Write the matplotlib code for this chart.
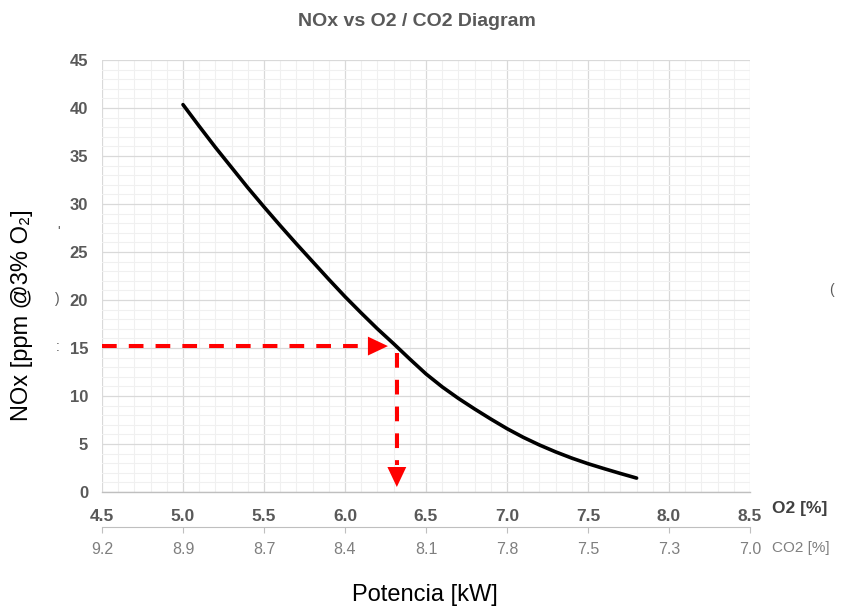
import matplotlib
matplotlib.use("Agg")
import matplotlib.pyplot as plt
from matplotlib.ticker import MultipleLocator

plt.rcParams['font.family'] = ['Liberation Sans', 'DejaVu Sans']

# curve
o2 = [5.0, 5.1, 5.2, 5.3, 5.4, 5.5, 5.6, 5.7, 5.8, 5.9,
      6.0, 6.1, 6.2, 6.3, 6.4, 6.5, 6.6, 6.7, 6.8, 6.9,
      7.0, 7.1, 7.2, 7.3, 7.4, 7.5, 7.6, 7.7, 7.8]
nox = [40.35, 38.1, 35.9, 33.8, 31.7, 29.7, 27.75, 25.85, 24.0, 22.15,
       20.35, 18.65, 17.0, 15.45, 13.85, 12.3, 10.95, 9.75, 8.65, 7.6,
       6.6, 5.7, 4.9, 4.18, 3.53, 2.95, 2.43, 1.93, 1.45]

o2_ticks = [4.5, 5.0, 5.5, 6.0, 6.5, 7.0, 7.5, 8.0, 8.5]
o2_labels = ["4.5", "5.0", "5.5", "6.0", "6.5", "7.0", "7.5", "8.0", "8.5"]
co2_labels = ["9.2", "8.9", "8.7", "8.4", "8.1", "7.8", "7.5", "7.3", "7.0"]
nox_ticks = [0, 5, 10, 15, 20, 25, 30, 35, 40, 45]

# reading example (dashed arrows)
nox_read = 15.2
o2_read = 6.32
h_head_base, h_head_tip = 6.14, 6.265
v_start, v_head_base, v_head_tip = 14.5, 2.8, 0.52

W, H = 846, 607
fig = plt.figure(figsize=(W / 100, H / 100), dpi=100)
ax = fig.add_axes([102 / W, 1 - 492 / H, 648 / W, 432 / H])

ax.set_xlim(4.5, 8.5)
ax.set_ylim(0, 45)
ax.xaxis.set_major_locator(MultipleLocator(0.5))
ax.xaxis.set_minor_locator(MultipleLocator(0.1))
ax.yaxis.set_major_locator(MultipleLocator(5))
ax.yaxis.set_minor_locator(MultipleLocator(1))
ax.grid(which='major', color='#d9d9d9', lw=0.9)
ax.grid(which='minor', color='#f0f0f0', lw=0.75)
ax.set_axisbelow(True)
for s in ['top', 'right', 'left']:
    ax.spines[s].set_visible(False)
ax.spines['bottom'].set_color('#bfbfbf')
ax.spines['bottom'].set_linewidth(1.0)

ax.set_xticks(o2_ticks)
ax.set_xticklabels(o2_labels)
ax.set_yticks(nox_ticks)
ax.tick_params(axis='both', which='both', length=0)
ax.tick_params(axis='x', pad=12, labelsize=12.5, labelcolor='#595959')
ax.tick_params(axis='y', pad=10, labelsize=12, labelcolor='#595959')
for lab in ax.get_xticklabels() + ax.get_yticklabels():
    lab.set_fontweight('bold')

ax.plot(o2, nox, color='black', lw=2.6, solid_capstyle='round', solid_joinstyle='round', zorder=3)

red = '#ff0000'
dash = (0, (3.65, 3.0))
ax.plot([4.5, h_head_base], [nox_read, nox_read], color=red, lw=2.9, ls=dash, zorder=4)
ax.plot([o2_read, o2_read], [v_start, v_head_base], color=red, lw=2.9, ls=dash, zorder=4)
head = dict(arrowstyle='-|>,head_length=0.72,head_width=0.34', mutation_scale=20,
            color=red, lw=0, shrinkA=0, shrinkB=0)
ax.annotate('', xy=(h_head_tip, nox_read), xytext=(h_head_base, nox_read), arrowprops=head, zorder=5)
ax.annotate('', xy=(o2_read, v_head_tip), xytext=(o2_read, v_head_base), arrowprops=head, zorder=5)

# secondary CO2 scale
ax2 = fig.add_axes([102 / W, 1 - 527 / H, 648 / W, 0.0001])
ax2.set_xlim(4.5, 8.5)
ax2.set_ylim(0, 1)
ax2.set_xticks(o2_ticks)
ax2.set_xticklabels(co2_labels)
ax2.set_yticks([])
for s in ['top', 'right', 'left']:
    ax2.spines[s].set_visible(False)
ax2.spines['bottom'].set_color('#bfbfbf')
ax2.tick_params(axis='x', length=4, color='#bfbfbf', pad=7, labelsize=11.5, labelcolor='#7f7f7f')
ax2.patch.set_visible(False)

fig.text(772 / W, 1 - 509 / H, "O2 [%]", fontsize=12.5, fontweight='bold', color='#404040',
         ha='left', va='center')
fig.text(772 / W, 1 - 548 / H, "CO2 [%]", fontsize=11, color='#7f7f7f', ha='left', va='center')

fig.text(417 / W, 1 - 21 / H, "NOx vs O2 / CO2 Diagram", fontsize=14, fontweight='bold',
         color='#595959', ha='center', va='center')
fig.text(22 / W, 1 - 315 / H, "NOx [ppm @3% O\u2082]", fontsize=17, rotation=90,
         ha='center', va='center', color='black')
fig.text(425 / W, 1 - 595 / H, "Potencia [kW]", fontsize=17, ha='center', va='center', color='black')

# stray clipped glyphs visible in the reference
fig.text(59 / W, 1 - 232 / H, "'", fontsize=10, color='#595959', ha='center', va='center')
fig.text(57 / W, 1 - 299 / H, ")", fontsize=10, color='#595959', ha='center', va='center')
fig.text(58 / W, 1 - 347 / H, ":", fontsize=10, color='#595959', ha='center', va='center')
fig.text(831 / W, 1 - 290 / H, "(", fontsize=10, color='#595959', ha='center', va='center')

fig.savefig("out.png", dpi=100)
